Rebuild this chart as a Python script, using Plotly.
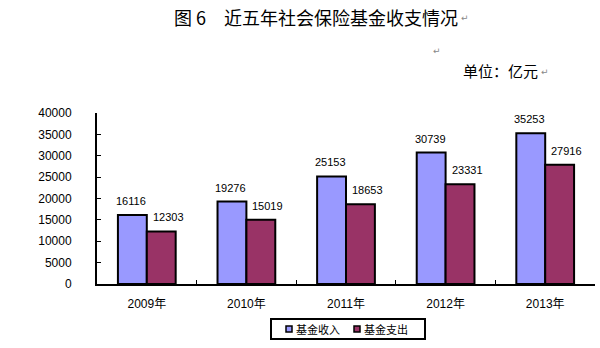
import plotly.graph_objects as go

years = ["2009年", "2010年", "2011年", "2012年", "2013年"]
income = [16116, 19276, 25153, 30739, 35253]
expense = [12303, 15019, 18653, 23331, 27916]
series_names = ["基金收入", "基金支出"]
colors = ["#9999FF", "#993366"]
yticks = [0, 5000, 10000, 15000, 20000, 25000, 30000, 35000, 40000]

FONT = "Liberation Sans, Noto Sans CJK SC, sans-serif"
CJK = "Noto Sans CJK SC, sans-serif"
BARGAP = 0.42

# plot area in pixels
L, R, T, B = 97, 595, 113, 284
W, H = R - L, B - T


def px(x):
    return (x - L) / W


def py(y):
    return (B - y) / H


fig = go.Figure()
all_series = [income, expense]
for name, vals, col in zip(series_names, all_series, colors):
    fig.add_trace(go.Bar(x=years, y=vals, name=name,
                         marker=dict(color=col, line=dict(color="black", width=2)),
                         showlegend=False))

# value labels above bars
bw = (1 - BARGAP) / 2
for k, vals in enumerate(all_series):
    off = (k - 0.5) * bw
    for i, v in enumerate(vals):
        fig.add_annotation(x=i + off, y=v, xref="x", yref="y", text=str(v),
                           showarrow=False, yanchor="bottom", xanchor="center",
                           yshift=6, xshift=(7 if k == 1 else -1),
                           font=dict(size=11, color="black", family=FONT))

fig.update_layout(
    width=600, height=348,
    margin=dict(l=L, r=600 - R, t=T, b=348 - B),
    paper_bgcolor="white", plot_bgcolor="white",
    barmode="group", bargap=BARGAP, bargroupgap=0,
    font=dict(family=FONT, size=12, color="black"),
    showlegend=False,
    xaxis=dict(range=[-0.5, 4.5], showline=True, linecolor="black", linewidth=2,
               ticks="inside", ticklen=4, tickcolor="black", tickwidth=1,
               tickson="boundaries", showgrid=False, tickfont=dict(size=12, family=FONT),
               ticklabelstandoff=8),
    yaxis=dict(range=[0, 40000], tickvals=yticks, ticktext=[str(v) for v in yticks],
               showline=True, linecolor="black",
               linewidth=2, ticks="inside", ticklen=4, tickcolor="black",
               showgrid=False, zeroline=False, tickfont=dict(size=12, family=FONT),
               ticklabelstandoff=21),
)

# title and unit
fig.add_annotation(text="图 6　近五年社会保险基金收支情况", xref="paper", yref="paper",
                   x=px(316), y=py(17), showarrow=False,
                   font=dict(size=18, family=CJK), xanchor="center", yanchor="middle")
fig.add_annotation(text="单位：亿元", xref="paper", yref="paper",
                   x=px(461), y=py(70), showarrow=False,
                   font=dict(size=15, family=CJK), xanchor="left", yanchor="middle")
for (xx, yy) in [(465, 18), (437, 51), (545, 72)]:
    fig.add_annotation(text="↵", xref="paper", yref="paper", x=px(xx), y=py(yy),
                       showarrow=False, font=dict(size=9, color="#888888", family="DejaVu Sans"),
                       xanchor="center", yanchor="middle")

# custom legend box
fig.add_shape(type="rect", xref="paper", yref="paper",
              x0=px(271), x1=px(425), y0=py(319), y1=py(339),
              line=dict(color="black", width=2), fillcolor="white")
for i, (name, col) in enumerate(zip(series_names, colors)):
    sx = 286 + i * 68
    fig.add_shape(type="rect", xref="paper", yref="paper",
                  x0=px(sx), x1=px(sx + 6), y0=py(326), y1=py(332),
                  line=dict(color="black", width=1.5), fillcolor=col)
    fig.add_annotation(text=name, xref="paper", yref="paper", x=px(sx + 8), y=py(329),
                       showarrow=False, font=dict(size=11, family=CJK),
                       xanchor="left", yanchor="middle")

fig.write_html("out.html")
